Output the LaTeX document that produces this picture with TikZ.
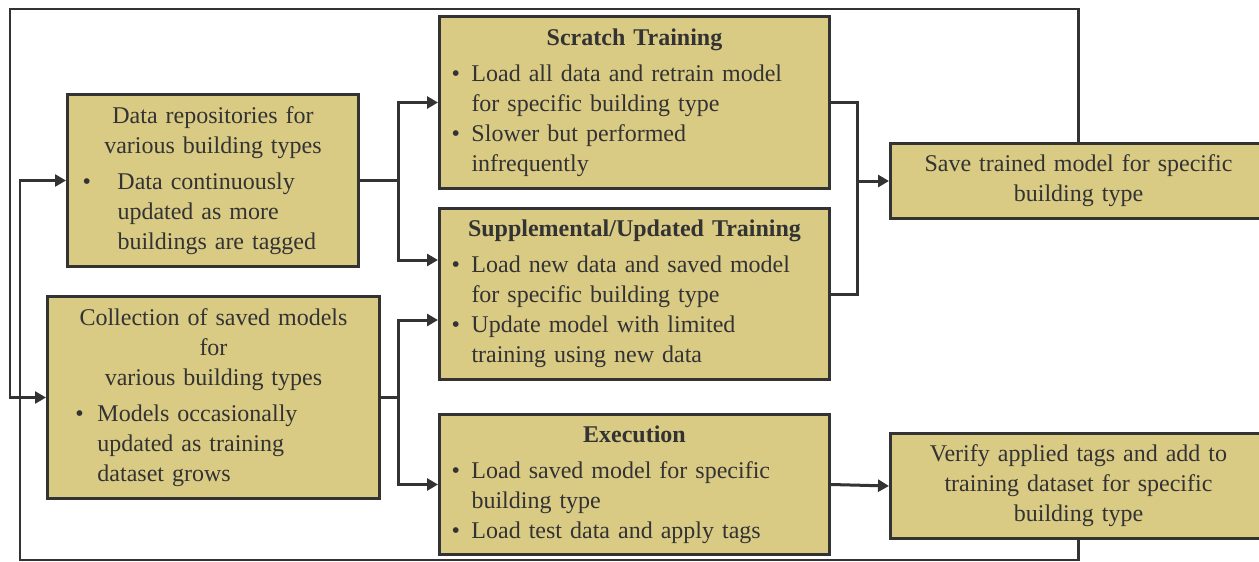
\documentclass[tikz,border=0pt]{standalone}
\usepackage{fontspec}
\setmainfont{Liberation Serif}
\usetikzlibrary{arrows.meta}
\definecolor{blkfill}{HTML}{D9CA84}
\definecolor{ink}{HTML}{333333}
% bullet line: #1 bullet offset, #2 text offset from bullet, #3 text
\newcommand{\bpt}[3]{\par\leftskip=#1\relax\rightskip=0pt plus 1fil\relax
  \hangindent=#2\relax\hangafter=1\relax\noindent\makebox[#2][l]{\textbullet}#3}
\newcommand{\ttl}[1]{{\centering #1\par}\vspace{6pt}}
\begin{document}
\begin{tikzpicture}[x=1pt,y=-1pt,
  blk/.style={draw=ink,line width=3pt,fill=blkfill,text=ink,inner sep=0pt,
    anchor=north west,font=\fontsize{24}{30}\selectfont},
  ln/.style={draw=ink,line width=3pt},
  arr/.style={ln,-{Triangle[length=11pt,width=12pt]}},
  fb/.style={draw=ink,line width=2.5pt,-{Triangle[length=11pt,width=12pt]}}]
  \useasboundingbox (0,0) rectangle (1259,562);

  \node[blk,text width=291pt,minimum height=172pt] (repo) at (66,93)
    {\ttl{Data repositories for\\various building types}%
     \bpt{15pt}{35pt}{Data continuously\newline updated as more\newline buildings are tagged}\par};
  \node[blk,text width=332pt,minimum height=202pt] (coll) at (46,295)
    {\ttl{Collection of saved models\\for\\various building types}%
     \bpt{28pt}{22pt}{Models occasionally\newline updated as training\newline dataset grows}\par};
  \node[blk,text width=390pt,minimum height=172pt] (scratch) at (438,15)
    {\ttl{\textbf{Scratch Training}}%
     \bpt{12pt}{20pt}{Load all data and retrain model\newline for specific building type}%
     \bpt{12pt}{20pt}{Slower but performed\newline infrequently}\par};
  \node[blk,text width=390pt,minimum height=171pt] (supp) at (438,207)
    {\ttl{\textbf{Supplemental/Updated Training}}%
     \bpt{12pt}{20pt}{Load new data and saved model\newline for specific building type}%
     \bpt{12pt}{20pt}{Update model with limited\newline training using new data}\par};
  \node[blk,text width=390pt,minimum height=140pt] (exec) at (438,413)
    {\ttl{\textbf{Execution}}%
     \bpt{12pt}{20pt}{Load saved model for specific\newline building type}%
     \bpt{12pt}{20pt}{Load test data and apply tags}\par};
  \node[blk,text width=376pt,minimum height=75pt,align=center] (save) at (889,142)
    {Save trained model for specific\\building type};
  \node[blk,text width=376pt,minimum height=105pt,align=center] (verify) at (889,432)
    {Verify applied tags and add to\\training dataset for specific\\building type};

  \coordinate (splitA) at (398,0);
  \coordinate (joinB) at (857,0);
  \coordinate (topleft) at (10,9);
  \coordinate (botleft) at (20,560);

  \draw[ln] (repo.east) -- (repo.east -| splitA);
  \draw[arr] (repo.east -| splitA) |- (scratch.west);
  \draw[arr] (repo.east -| splitA) |- ([yshift=34pt]supp.west);
  \draw[ln] (coll.east) -- (coll.east -| splitA);
  \draw[arr] (coll.east -| splitA) |- ([yshift=-26pt]supp.west);
  \draw[arr] (coll.east -| splitA) |- (exec.west);

  \draw[ln] (scratch.east) -| (joinB |- supp.east) -- (supp.east);
  \draw[arr] (joinB |- save.west) -- (save.west);
  \draw[arr] (exec.east) -- (verify.west);

  %feedback loops
  \draw[fb] (save.north) |- (topleft) |- (coll.west);
  \draw[fb] (verify.south) |- (botleft) |- (repo.west);
\end{tikzpicture}
\end{document}
